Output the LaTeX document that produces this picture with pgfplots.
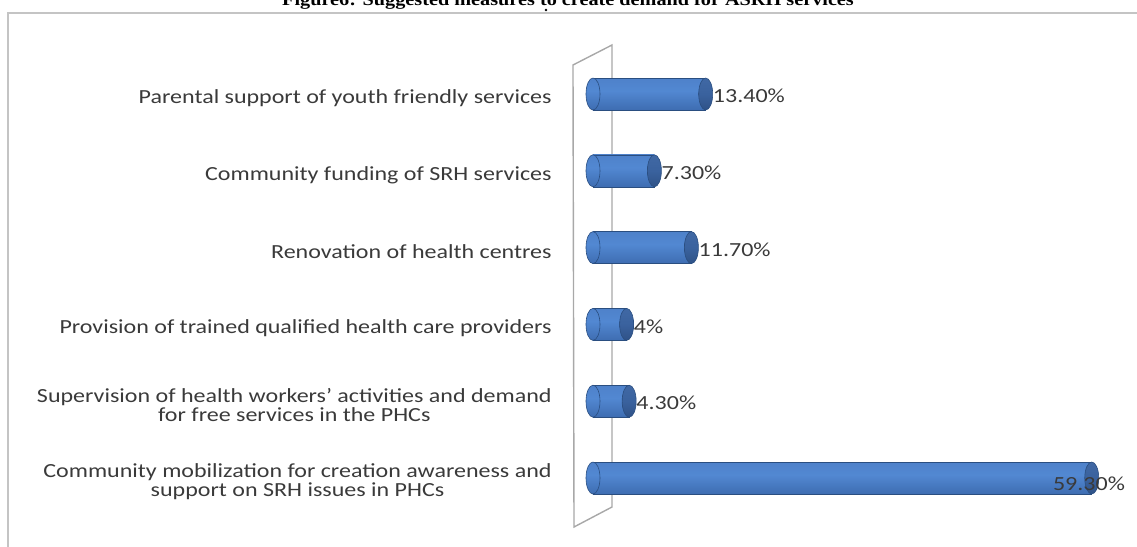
\documentclass[border=0pt]{standalone}
\usepackage{fontspec}
\setmainfont{Carlito}
\newfontfamily\lab{Carlito}[FakeStretch=1.2]
\newfontfamily\ttl{Liberation Serif}[FakeStretch=1.15]
\usepackage{pgfplots}
\pgfplotsset{compat=1.18}
\definecolor{barEdge}{HTML}{2A4E80}
\definecolor{capC}{HTML}{3A64A0}
\definecolor{txt}{HTML}{3A3A3A}
\definecolor{frameC}{HTML}{C4C4C4}
\definecolor{wallC}{HTML}{A8A8A8}
\pgfdeclareverticalshading{cyl}{100bp}{color(0bp)=(rgb,255:red,40;green,76;blue,132); color(22bp)=(rgb,255:red,60;green,106;blue,174); color(55bp)=(rgb,255:red,82;green,136;blue,210); color(85bp)=(rgb,255:red,76;green,126;blue,198); color(100bp)=(rgb,255:red,120;green,150;blue,196)}
\pgfdeclareverticalshading{capsh}{100bp}{color(0bp)=(rgb,255:red,36;green,66;blue,112); color(50bp)=(rgb,255:red,58;green,98;blue,158); color(100bp)=(rgb,255:red,70;green,110;blue,170)}
\pgfdeclareplotmark{capL}{%
  \pgfpathellipse{\pgfpointorigin}{\pgfpoint{3.5pt}{0pt}}{\pgfpoint{0pt}{8pt}}%
  \pgfshadepath{cyl}{0}\pgfusepath{stroke}}
\pgfdeclareplotmark{capR}{%
  \pgfpathellipse{\pgfpointorigin}{\pgfpoint{3.5pt}{0pt}}{\pgfpoint{0pt}{8pt}}%
  \pgfshadepath{capsh}{0}\pgfusepath{stroke}}
\pgfplotsset{cylbar/.style={xbar, bar width=16pt, bar shift=0pt, draw=barEdge, line width=0.3pt, shading=cyl, shading angle=0}}
\begin{document}
\begin{tikzpicture}[x=0.5pt,y=0.5pt]
\useasboundingbox (0,0) rectangle (1137,547);
% frame
\draw[frameC, line width=1pt] (8,0) -- (8,534) -- (1137,534);
% title (cut by the page edge, as in the source)
\node[anchor=base, inner sep=0pt, font=\ttl\bfseries\fontsize{8.8}{10.5}\selectfont] at (568,541) {Figure6: Suggested measures to create demand for ASRH services};
\fill (546,537) circle (1.3);
% back wall
\draw[wallC, line width=0.7pt] (573,482) -- (612,502) -- (612,40) -- (574,20) -- cycle;
\begin{axis}[
  at={(296.5pt,15.3pt)}, anchor=south west,
  scale only axis, width=272pt, height=230.4pt,
  xmin=0, xmax=64.68, ymin=-0.5, ymax=5.5,
  clip=false,
  axis line style={draw=none},
  xtick=\empty,
  ytick={0,1,2,3,4,5},
  major tick length=0pt,
  yticklabels={{Community mobilization for creation awareness and\\support on SRH issues in PHCs},
               {Supervision of health workers’ activities and demand\\for free services in the PHCs},
               {Provision of trained qualified health care providers},
               {Renovation of health centres},
               {Community funding of SRH services},
               {Parental support of youth friendly services}},
  yticklabel style={font=\lab\fontsize{10}{9.5}\selectfont, text=txt, align=center,
                    anchor=east, inner sep=0pt, xshift=-20.5pt, yshift=-2pt},
]
% left caps
\addplot[only marks, mark=capL, mark options={draw=barEdge, line width=0.3pt}]
  coordinates {(0,0) (0,1) (0,2) (0,3) (0,4) (0,5)};
% bars, one plot each so that each gets its own shading
\addplot[cylbar] coordinates {(59.3,0)};
\addplot[cylbar] coordinates {(4.3,1)};
\addplot[cylbar] coordinates {(4,2)};
\addplot[cylbar] coordinates {(11.7,3)};
\addplot[cylbar] coordinates {(7.3,4)};
\addplot[cylbar] coordinates {(13.4,5)};
% right caps with labels
\addplot[only marks, mark=capR, mark options={draw=barEdge, line width=0.3pt},
  point meta=explicit symbolic, nodes near coords,
  nodes near coords style={anchor=west, inner sep=0pt, xshift=3.5pt, yshift=-1pt,
     text=txt, font=\lab\fontsize{10}{12}\selectfont}]
  coordinates {(4.3,1) [4.30\%] (4,2) [4\%] (11.7,3) [11.70\%] (7.3,4) [7.30\%] (13.4,5) [13.40\%]};
\addplot[only marks, mark=capR, mark options={draw=barEdge, line width=0.3pt},
  point meta=explicit symbolic, nodes near coords,
  nodes near coords style={anchor=west, inner sep=0pt, xshift=-19.5pt, yshift=-3pt,
     text=txt, font=\lab\fontsize{10}{12}\selectfont}]
  coordinates {(59.3,0) [59.30\%]};
\end{axis}
\end{tikzpicture}
\end{document}
